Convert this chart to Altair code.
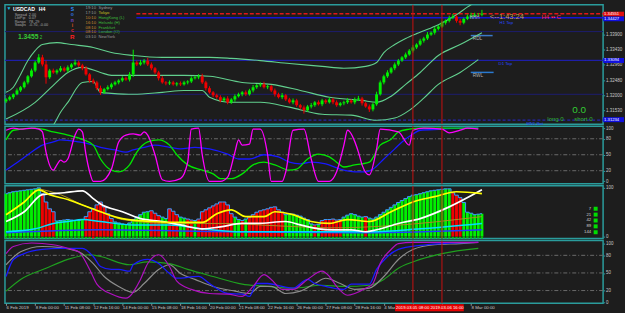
import json
import altair as alt
import pandas as pd

# ---------------- data ----------------
closes = [
    1.3188, 1.3195, 1.3204, 1.3216, 1.3226, 1.3241, 1.3260, 1.3278, 1.3303, 1.3319,
    1.3297, 1.3257, 1.3278, 1.3272, 1.3278, 1.3285, 1.3278, 1.3288, 1.3297, 1.3303,
    1.3294, 1.3285, 1.3266, 1.3247, 1.3241, 1.3223, 1.3210, 1.3220, 1.3226, 1.3235,
    1.3241, 1.3247, 1.3254, 1.3250, 1.3266, 1.3303, 1.3297, 1.3303, 1.3309, 1.3297,
    1.3285, 1.3272, 1.3254, 1.3241, 1.3238, 1.3241, 1.3235, 1.3238, 1.3235, 1.3241,
    1.3244, 1.3254, 1.3257, 1.3260, 1.3241, 1.3223, 1.3210, 1.3201, 1.3195, 1.3185,
    1.3191, 1.3179, 1.3188, 1.3198, 1.3204, 1.3210, 1.3204, 1.3216, 1.3226, 1.3232,
    1.3235, 1.3226, 1.3229, 1.3216, 1.3204, 1.3195, 1.3201, 1.3188, 1.3179, 1.3185,
    1.3170, 1.3163, 1.3154, 1.3166, 1.3170, 1.3179, 1.3173, 1.3185, 1.3179, 1.3188,
    1.3179, 1.3170, 1.3176, 1.3179, 1.3185, 1.3179, 1.3188, 1.3191, 1.3176, 1.3166,
    1.3157, 1.3173, 1.3204, 1.3241, 1.3260, 1.3272, 1.3285, 1.3297, 1.3309, 1.3319,
    1.3328, 1.3340, 1.3350, 1.3359, 1.3371, 1.3378, 1.3390, 1.3396, 1.3408, 1.3415,
    1.3427, 1.3433, 1.3442, 1.3446, 1.3433, 1.3427, 1.3439, 1.3446, 1.3449, 1.3452,
    1.3452, 1.3455,
]
first_open = 1.3182
wick_up = [  # pips above the body
    4, 5, 3, 6, 4, 5, 4, 6, 5, 10,
    8, 12, 5, 6, 4, 7, 5, 6, 4, 9,
    6, 5, 7, 4, 6, 5, 8, 4, 6, 5,
    5, 4, 6, 5, 7, 40, 6, 8, 5, 9,
    6, 4, 5, 7, 4, 6, 5, 4, 6, 5,
    4, 6, 5, 7, 8, 5, 6, 4, 5, 6,
    5, 7, 4, 6, 5, 4, 6, 5, 7, 4,
    6, 8, 5, 4, 6, 5, 7, 4, 5, 6,
    5, 4, 6, 5, 7, 4, 6, 5, 4, 6,
    5, 6, 4, 5, 7, 4, 6, 8, 5, 4,
    6, 5, 8, 6, 5, 7, 4, 6, 5, 4,
    6, 5, 7, 4, 6, 5, 8, 4, 6, 5,
    6, 4, 7, 8, 5, 6, 4, 7, 9, 6, 5, 12,
]
wick_dn = [  # pips below the body
    5, 4, 6, 3, 5, 4, 6, 4, 5, 4,
    6, 20, 5, 4, 6, 5, 4, 6, 5, 4,
    5, 6, 4, 7, 5, 6, 8, 5, 4, 6,
    4, 6, 5, 4, 6, 8, 5, 4, 6, 5,
    6, 5, 7, 4, 6, 5, 4, 6, 5, 4,
    6, 5, 4, 6, 5, 7, 4, 6, 5, 6,
    4, 6, 5, 7, 4, 6, 5, 4, 6, 5,
    5, 4, 6, 5, 7, 4, 6, 5, 4, 6,
    5, 6, 10, 4, 6, 5, 4, 6, 5, 4,
    6, 5, 4, 6, 5, 4, 6, 5, 7, 4,
    8, 6, 5, 4, 6, 5, 4, 6, 5, 4,
    5, 4, 6, 5, 4, 6, 5, 4, 6, 5,
    4, 6, 5, 4, 6, 8, 5, 4, 6, 5, 4, 5,
]

upper_k = [0, 2, 4, 6, 8, 10, 14, 18, 24, 29, 35, 43, 50, 56, 62, 70, 78, 87, 93, 99,
           102, 104, 107, 110, 113, 115, 119, 124, 128, 131]
upper = [1.3210, 1.3226, 1.3266, 1.3309, 1.3340, 1.3359, 1.3365, 1.3359, 1.3350, 1.3334,
         1.3325, 1.3319, 1.3319, 1.3319, 1.3316, 1.3309, 1.3300, 1.3291, 1.3285, 1.3291,
         1.3303, 1.3334, 1.3359, 1.3378, 1.3393, 1.3402, 1.3421, 1.3452, 1.3483, 1.3499]
middle_k = [0, 8, 13, 17, 21, 26, 29, 35, 43, 49, 56, 65, 73, 81, 89, 98, 102, 106, 110, 114,
            119, 125, 131]
middle = [1.3127, 1.3179, 1.3232, 1.3272, 1.3288, 1.3272, 1.3263, 1.3263, 1.3263, 1.3263,
          1.3260, 1.3241, 1.3235, 1.3216, 1.3195, 1.3185, 1.3179, 1.3198, 1.3235, 1.3272,
          1.3325, 1.3359, 1.3396]
lower_k = [0, 8, 13, 15, 17, 21, 24, 26, 29, 35, 43, 49, 54, 56, 62, 70, 78, 87, 95, 102,
           107, 111, 115, 119, 125, 130]
lower = [1.3040, 1.3071, 1.3108, 1.3148, 1.3179, 1.3241, 1.3244, 1.3210, 1.3207, 1.3204,
         1.3210, 1.3216, 1.3216, 1.3195, 1.3179, 1.3179, 1.3164, 1.3142, 1.3139, 1.3123,
         1.3130, 1.3154, 1.3192, 1.3235, 1.3272, 1.3312]

price_ticks = [1.3153, 1.3200, 1.3248, 1.3296, 1.3343, 1.3390]
bid_level = 1.34551
h1_top = 1.34427
d1_top = 1.33094
mn1_bot = 1.31234
faint_levels = [1.33993, 1.32040]
rdl_level = 1.33869
rwl_level = 1.32722

# panel 2 oscillators (0..100)
p2_mag_k = [0, 2, 4, 7, 9, 10, 11, 13, 14, 15, 16, 17, 19, 20, 21, 22, 23, 24, 26, 29,
            31, 33, 35, 37, 38, 39, 41, 43, 45, 48, 50, 51, 53, 54, 56, 59, 61, 63, 64, 65,
            67, 68, 70, 72, 73, 76, 77, 79, 82, 84, 86, 89, 91, 93, 94, 97, 98, 100, 102, 103,
            108, 111, 112, 115, 120, 122, 125, 127, 130]
p2_mag = [96, 100, 98, 100, 98, 93, 55, 21, 31, 40, 36, 42, 87, 98, 93, 50, 18, 0, 0, 23,
          74, 87, 89, 87, 93, 87, 50, 3, 0, 5, 36, 98, 100, 50, 0, 0, 8, 55, 78, 68,
          70, 98, 98, 50, 0, 0, 18, 96, 98, 42, 0, 0, 18, 68, 96, 55, 31, 12, 61, 98,
          93, 68, 96, 100, 98, 91, 96, 100, 98]
p2_grn_k = [0, 2, 8, 10, 13, 17, 21, 24, 26, 29, 31, 34, 36, 39, 42, 45, 47, 50, 54, 57,
            59, 62, 65, 68, 71, 74, 78, 80, 83, 86, 89, 91, 93, 96, 98, 100, 103, 106, 108, 111,
            114, 122, 130]
p2_grn = [78, 96, 100, 98, 93, 87, 79, 68, 42, 21, 18, 31, 55, 74, 78, 68, 50, 31, 21, 14,
          5, 5, 14, 31, 36, 31, 21, 23, 42, 51, 46, 36, 27, 31, 33, 36, 68, 79, 93, 98,
          100, 100, 100]
p2_blu_k = [0, 4, 7, 10, 13, 15, 20, 23, 26, 30, 33, 35, 38, 41, 45, 48, 52, 56, 61, 64,
            67, 71, 75, 78, 81, 84, 88, 92, 96, 99, 101, 104, 107, 109, 112, 114, 120, 125, 130]
p2_blu = [21, 40, 55, 68, 74, 78, 74, 70, 64, 59, 55, 59, 64, 68, 64, 61, 64, 61, 51, 42,
          42, 50, 46, 36, 33, 36, 33, 23, 18, 18, 23, 42, 61, 74, 89, 96, 98, 100, 100]

# panel 3 histogram (one value per bar) and lines
hist = [88, 90, 92, 93, 94, 95, 96, 97, 98, 100,
        88, 71, 57, 51,
        32, 33, 34, 35, 34, 33, 33, 35,
        41, 51, 57, 65, 71, 61, 47, 37,
        30, 28, 26, 25, 28, 35, 40, 45, 50, 51,
        53, 48, 43, 40, 37, 57, 52, 45, 40, 38,
        36, 34, 33, 36, 51, 55, 59, 63, 67, 71,
        71, 65, 47, 40, 35, 33, 36,
        40, 45, 50, 53, 55, 57, 60, 61, 55, 50,
        45, 47, 46, 44, 42, 38, 35, 26,
        24, 25, 33, 35, 35, 36, 34, 35,
        40, 44, 47, 45, 42, 40, 41,
        38, 36, 40, 45, 50, 55, 60, 65, 70, 74, 78, 82, 85,
        86, 88, 90, 92, 94, 95, 96, 97, 98, 98,
        90, 85, 80, 70, 50, 48, 45, 46, 47]
hist_dir = ("G" * 10 + "R" * 4 + "G" * 8 + "R" * 8 + "G" * 10 + "R" * 3 + "G" * 2 + "R" * 3
            + "G" * 2 + "R" * 2 + "G" + "R" * 10 + "G" * 2 + "R" + "G" + "R" * 10 + "G" * 8
            + "R" + "G" + "R" * 6 + "G" * 6 + "R" + "G" * 23 + "R" * 3 + "G" * 6)
strip_dir = "G" * 24 + "R" + "G" * 107
p3_yel_k = [0, 5, 9, 12, 17, 21, 26, 32, 40, 48, 54, 58, 62, 66, 71, 74, 79, 84, 89, 94,
            100, 106, 112, 118, 124, 131]
p3_yel = [45, 71, 96, 86, 76, 65, 51, 37, 31, 29, 29, 47, 55, 41, 41, 51, 45, 31, 27, 35,
          31, 51, 71, 82, 92, 88]
p3_wht_k = [0, 5, 10, 16, 21, 24, 26, 32, 37, 43, 48, 54, 59, 65, 69, 77, 81, 86, 90, 95,
            99, 102, 108, 114, 122, 131]
p3_wht = [31, 51, 86, 90, 94, 78, 67, 51, 37, 31, 24, 16, 20, 27, 27, 31, 24, 16, 14, 14,
          10, 14, 27, 37, 61, 96]
p3_cyn_k = [0, 8, 13, 17, 21, 26, 35, 45, 54, 65, 80, 100, 114, 131]
p3_cyn = [10, 16, 27, 31, 35, 31, 24, 24, 16, 10, 10, 10, 16, 27]
p3_blu_k = [0, 26, 60, 100, 131]
p3_blu = [8, 14, 10, 8, 14]
p3_olv_k = [9, 15, 21, 26, 32, 45, 60, 75, 90, 105, 131]
p3_olv = [98, 86, 65, 51, 35, 27, 27, 22, 18, 22, 41]
periods = ["7", "21", "42", "89", "144"]

# panel 4 oscillators
p4_mag_k = [0, 2, 7, 13, 17, 20, 23, 25, 29, 33, 34, 37, 39, 42, 45, 47, 51, 56, 61, 65,
            68, 71, 73, 76, 79, 83, 87, 89, 91, 94, 96, 99, 101, 103, 106, 108, 112, 120, 130]
p4_mag = [83, 95, 101, 98, 92, 86, 56, 31, 14, 7, 10, 39, 66, 81, 61, 36, 22, 15, 14, 10,
          27, 47, 39, 22, 22, 39, 53, 44, 27, 12, 15, 24, 32, 66, 90, 100, 102, 102, 102]
p4_gry_k = [0, 4, 10, 15, 20, 24, 27, 31, 35, 38, 42, 45, 48, 52, 57, 63, 67, 70, 73, 77,
            81, 85, 88, 92, 96, 100, 104, 108, 112, 118, 125, 130]
p4_gry = [64, 86, 95, 93, 86, 66, 44, 27, 17, 32, 56, 64, 49, 39, 27, 19, 15, 27, 27, 15,
          19, 32, 41, 32, 22, 24, 44, 73, 90, 98, 100, 102]
p4_blu_k = [0, 2, 5, 10, 15, 21, 24, 26, 29, 31, 34, 35, 39, 42, 45, 47, 53, 56, 61, 65,
            67, 69, 72, 76, 79, 83, 85, 88, 93, 95, 100, 102, 105, 108, 114, 120, 130]
p4_blu = [44, 73, 83, 90, 92, 92, 78, 61, 56, 56, 53, 64, 73, 66, 49, 41, 44, 32, 15, 14,
          10, 32, 32, 27, 24, 39, 32, 27, 22, 31, 31, 56, 78, 90, 97, 100, 102]
p4_grn_k = [0, 4, 11, 17, 23, 26, 34, 39, 45, 50, 57, 65, 72, 79, 87, 93, 100, 104, 108, 114,
            120, 130]
p4_grn = [19, 39, 58, 73, 81, 78, 64, 69, 66, 56, 44, 31, 27, 24, 29, 27, 29, 39, 58, 73,
          83, 92]
osc_ticks = [100, 80, 50, 20, 0]
osc_levels = [80, 50, 20]

tick_bars = list(range(0, 129, 8))
# the 4 Mar label is cut by the red marker box; 5 Mar 08:00 / 6 Mar 16:00 are covered by it
tick_labels = ["6 Feb 2019", "8 Feb 00:00", "11 Feb 08:00", "12 Feb 16:00", "14 Feb 00:00",
               "15 Feb 08:00", "18 Feb 16:00", "20 Feb 00:00", "21 Feb 08:00", "22 Feb 16:00",
               "26 Feb 00:00", "27 Feb 08:00", "28 Feb 16:00", "4 Mar", "",
               "", "8 Mar 00:00"]
vline_bars = [112, 120]
vline_labels = ["2019.03.05 08:00", "2019.03.06 16:00"]

# ---------------- styling ----------------
BG = "#1d1d1d"
TEAL = "#2a9c9c"
LBL = "#c8c8c8"
FONT = "Liberation Sans"
GREEN = "#00f000"
RED = "#f00000"
VRED = "#c81010"
W = 601
H1, H2, H3, H4 = 120, 58, 53, 63
XDOM = [-0.301, 164.36]
D1 = [1.3111, 1.3483]
D2 = [-4.7, 103.7]
D3 = [-4.1, 104.1]
D4 = [-1.7, 105.1]

ONE = pd.DataFrame({"a": [0]})


def xenc(field, axis=None):
    return alt.X(field, scale=alt.Scale(domain=XDOM, nice=False, zero=False), axis=axis)


def yaxis(values, fmt=None):
    kw = dict(orient="right", values=values, title=None, grid=False, domain=False,
              tickSize=1.5, tickColor=TEAL, labelFontSize=4.5, labelColor=LBL,
              labelFont=FONT, labelPadding=1, labelOverlap=False, labelFlush=False)
    if fmt:
        kw["format"] = fmt
    return alt.Axis(**kw)


def ymaker(dom, axis):
    def f(field):
        return alt.Y(field, scale=alt.Scale(domain=dom, nice=False, zero=False), axis=axis)
    return f


def line(ks, vs, color, width, yf, xaxis=None, interp="monotone", dash=None):
    df = pd.DataFrame({"k": ks, "v": vs})
    kw = dict(color=color, strokeWidth=width, interpolate=interp, clip=True)
    if dash:
        kw["strokeDash"] = dash
    return alt.Chart(df).mark_line(**kw).encode(x=xenc("k:Q", xaxis), y=yf("v:Q"))


def txt(s, x, y, color, size, weight="normal", align="left"):
    return alt.Chart(ONE).mark_text(text=s, color=color, fontSize=size, fontWeight=weight,
                                    align=align, baseline="middle", font=FONT).encode(
        x=alt.value(x), y=alt.value(y))


def box(x0, x1, y0, y1, color):
    return alt.Chart(ONE).mark_rect(color=color).encode(
        x=alt.value(x0), x2=alt.value(x1), y=alt.value(y0), y2=alt.value(y1))


def hrule(p, yf, color, width, x0=0, x1=W, dash=None):
    kw = dict(color=color, strokeWidth=width)
    if dash:
        kw["strokeDash"] = dash
    return alt.Chart(pd.DataFrame({"p": [p]})).mark_rule(**kw).encode(
        y=yf("p:Q"), x=alt.value(x0), x2=alt.value(x1))


def vlines(xaxis=None):
    return alt.Chart(pd.DataFrame({"k": vline_bars})).mark_rule(
        color=VRED, strokeWidth=1).encode(x=xenc("k:Q", xaxis))


# ---------------- panel 1 : candles ----------------
y1 = ymaker(D1, yaxis(price_ticks, ".5f"))
N = len(closes)
opens = [first_open] + closes[:-1]
candles = pd.DataFrame({
    "k": list(range(N)),
    "o": opens,
    "c": closes,
    "h": [max(o, c) + u / 10000 for o, c, u in zip(opens, closes, wick_up)],
    "l": [min(o, c) - d / 10000 for o, c, d in zip(opens, closes, wick_dn)],
})
cbase = alt.Chart(candles).transform_calculate(
    col=f"datum.c >= datum.o ? '{GREEN}' : '{RED}'",
    x0="datum.k - 0.4", x1="datum.k + 0.4")
wicks = cbase.mark_rule(strokeWidth=1).encode(
    x=xenc("k:Q"), y=y1("l:Q"), y2="h", color=alt.Color("col:N", scale=None))
bodies = cbase.mark_rect().encode(
    x=xenc("x0:Q"), x2="x1", y=y1("o:Q"), y2="c", color=alt.Color("col:N", scale=None))

BAND = "#62d08e"
INFO = "#a8a8a8"
p1_layers = [
    hrule(faint_levels[0], y1, "#1c1c6e", 1),
    hrule(faint_levels[1], y1, "#1c1c6e", 1),
    hrule(d1_top, y1, "#1e1ea8", 1.2),
    hrule(mn1_bot, y1, "#2424b0", 1.2, dash=[3, 2]),
    hrule(bid_level, y1, "#e01818", 1.6, x0=132, dash=[4, 2]),
    hrule(h1_top, y1, "#1414d8", 1.5, x0=132),
    hrule(rdl_level, y1, "#3c78c8", 1.5, x0=468, x1=490),
    hrule(rwl_level, y1, "#2a7ad0", 1.5, x0=468, x1=491),
    line(upper_k, upper, BAND, 1.1, y1),
    line(middle_k, middle, BAND, 1.1, y1),
    line(lower_k, lower, BAND, 1.1, y1),
    wicks, bodies,
    vlines(),
    # info block
    txt("▼", 1.5, 3.5, "#10c0e0", 5),
    txt("USDCAD", 8, 4, "#ffffff", 5.2, "bold"),
    txt("H4", 34, 4, "#ffffff", 5.2, "bold"),
    txt("Spread", 9.7, 10.7, INFO, 3.8), txt("2.00", 24, 10.7, INFO, 3.8),
    txt("LotPip", 9.7, 13.8, INFO, 3.8), txt("0.07", 24, 13.8, INFO, 3.8),
    txt("Range", 9.7, 17, INFO, 3.8), txt("78, 29", 24, 17, INFO, 3.8),
    txt("Swaps", 9.7, 20.2, INFO, 3.8), txt("-0.70, -0.00", 24, 20.2, INFO, 3.8),
    txt("1.3455", 13, 32, "#36c836", 6.8, "bold"),
    txt("2", 35, 33, "#36c836", 4.5),
    txt("S", 67.7, 4, "#2d8cff", 5, "bold", "center"),
    txt("o", 67.7, 9.8, "#2d70e0", 5, "bold", "center"),
    txt("n", 67.7, 15, "#7848c8", 5, "bold", "center"),
    txt("i", 67.7, 20.4, "#d85020", 5, "bold", "center"),
    txt("c", 67.7, 25.6, "#e02828", 5, "bold", "center"),
    txt("R", 67.7, 32.6, "#ff2020", 6.3, "bold", "center"),
]
sessions = [("19:10", "#9a9a9a", "Sydney", "#9a9a9a"),
            ("17:10", "#9a9a9a", "Tokyo", "#c8c020"),
            ("10:10", "#d08a30", "HongKong (L)", "#3cbc3c"),
            ("16:10", "#d08a30", "Helsinki (H)", "#3cbc3c"),
            ("08:10", "#d08a30", "Frankfurt", "#3cbc3c"),
            ("08:10", "#d08a30", "London (O)", "#3cbc3c"),
            ("03:10", "#9a9a9a", "NewYork", "#9a9a9a")]
for i, (t, tcol, name, ncol) in enumerate(sessions):
    yy = 3.3 + i * 4.9
    p1_layers.append(txt(t, 81, yy, tcol, 4.2))
    p1_layers.append(txt(name, 94, yy, ncol, 4.2))
p1_layers += [
    txt("HHH", 467, 13, "#c0c0c0", 4.5),
    txt("<--1:43:24", 487, 12.5, "#c8a050", 7.5),
    txt("H4 ▪▪ C", 539, 12.5, "#ff2040", 6),
    txt("H1 Top", 497, 18.8, "#2848ff", 4.3),
    txt("RDL", 470, 34.5, "#b0b0b0", 4.8),
    txt("D1 Top", 496, 60, "#2848ff", 4.3),
    txt("RWL", 470, 71.5, "#b0b0b0", 4.8),
    txt("0.0", 570, 105.5, "#33cc33", 10),
    txt("long 0", 545, 115, "#33bb33", 6),
    txt("short 0", 572, 115, "#33bb33", 6),
    txt("MN1 Bot", 524, 120, "#2848ff", 4.3),
    box(601, 622, 7, 11.8, "#e01010"),
    txt(f"{bid_level:.5f}", 602, 9.4, "#ffffff", 4.2),
    box(601, 622, 11.8, 16.6, "#1010e0"),
    txt(f"{h1_top:.5f}", 602, 14.2, "#ffffff", 4.2),
    box(601, 622, 53.5, 58.5, "#1010e0"),
    txt(f"{d1_top:.5f}", 602, 56, "#ffffff", 4.2),
    box(601, 622, 113, 118, "#1010e0"),
    txt(f"{mn1_bot:.5f}", 602, 115.5, "#ffffff", 4.2),
]
panel1 = alt.layer(*p1_layers).properties(width=W, height=H1)

# ---------------- panel 2 ----------------
y2 = ymaker(D2, yaxis(osc_ticks))
grid2 = alt.Chart(pd.DataFrame({"v": osc_levels})).mark_rule(
    color="#6a6a6a", strokeWidth=1, strokeDash=[4, 2, 1, 2]).encode(y=y2("v:Q"))
panel2 = alt.layer(
    grid2,
    line(p2_blu_k, p2_blu, "#1818ff", 1.3, y2),
    line(p2_grn_k, p2_grn, "#00e800", 1.3, y2),
    line(p2_mag_k, p2_mag, "#ff00ff", 1.3, y2),
    vlines(),
).properties(width=W, height=H2)

# ---------------- panel 3 ----------------
y3 = ymaker(D3, yaxis([100, 0]))
hdf = pd.DataFrame({"k": list(range(len(hist))), "h": hist, "d": list(hist_dir),
                    "s": list(strip_dir)})
hbase = alt.Chart(hdf).transform_calculate(
    x0="datum.k - 0.4", x1="datum.k + 0.4", z="0",
    col=f"datum.d == 'G' ? '{GREEN}' : '{RED}'",
    scol="datum.s == 'G' ? '#00c800' : '#ff0000'",
    q0="datum.k - 0.3", q1="datum.k + 0.3", s0="-3.9", s1="-0.6")
bars = hbase.mark_rect().encode(x=xenc("x0:Q"), x2="x1", y=y3("z:Q"), y2="h",
                                color=alt.Color("col:N", scale=None))
outline = alt.Chart(hdf).mark_line(color="#3a9cff", strokeWidth=1, interpolate="step").encode(
    x=xenc("k:Q"), y=y3("h:Q"))
strip = hbase.mark_rect().encode(x=xenc("q0:Q"), x2="q1", y=y3("s0:Q"), y2="s1",
                                 color=alt.Color("scol:N", scale=None))
p3_layers = [
    bars, outline,
    line(p3_blu_k, p3_blu, "#2040ff", 1.5, y3),
    line(p3_cyn_k, p3_cyn, "#00e0ff", 1.5, y3),
    line(p3_olv_k, p3_olv, "#a89020", 1, y3),
    line(p3_wht_k, p3_wht, "#ffffff", 1.7, y3),
    line(p3_yel_k, p3_yel, "#ffff00", 1.7, y3),
    strip,
    vlines(),
]
for i, p in enumerate(periods):
    yy = 23 + i * 5.9
    p3_layers.append(txt(p, 589, yy, "#d0d0d0", 4.3, align="right"))
    p3_layers.append(box(591.5, 595.5, yy - 2, yy + 2, "#00dd00"))
panel3 = alt.layer(*p3_layers).properties(width=W, height=H3)

# ---------------- panel 4 ----------------
XAX = alt.Axis(values=tick_bars,
               labelExpr=json.dumps(tick_labels) + "[round(datum.value / 8)]",
               labelAlign="left", labelBaseline="top", labelFontSize=4.4, labelColor=LBL,
               labelFont=FONT, labelPadding=0.5, tickSize=2, tickColor="#909090",
               domain=False, grid=False, title=None, labelOverlap=False, labelFlush=False)
y4 = ymaker(D4, yaxis(osc_ticks))
grid4 = alt.Chart(pd.DataFrame({"v": osc_levels})).mark_rule(
    color="#6a6a6a", strokeWidth=1, strokeDash=[4, 2, 1, 2]).encode(y=y4("v:Q"))
panel4 = alt.layer(
    grid4,
    line(p4_grn_k, p4_grn, "#1fa01f", 1.2, y4, XAX),
    line(p4_gry_k, p4_gry, "#8c8c8c", 1.2, y4, XAX),
    line(p4_blu_k, p4_blu, "#1a1aff", 1.3, y4, XAX),
    line(p4_mag_k, p4_mag, "#b010c0", 1.2, y4, XAX),
    vlines(XAX),
    box(392, 461, 64, 71, "#e80000"),
    txt(vline_labels[0], 393, 67.5, "#ffffff", 4.3),
    txt(vline_labels[1], 427.5, 67.5, "#ffffff", 4.3),
).properties(width=W, height=H4)

chart = alt.vconcat(panel1, panel2, panel3, panel4, spacing=2, bounds="flush").resolve_scale(
    x="independent", y="independent"
).configure(
    background=BG, padding={"left": 3, "top": 2, "right": 0, "bottom": 0}, font=FONT
).configure_view(stroke=TEAL, strokeWidth=1.5)

chart.save("out.html", embed_options={"renderer": "svg", "actions": False})
